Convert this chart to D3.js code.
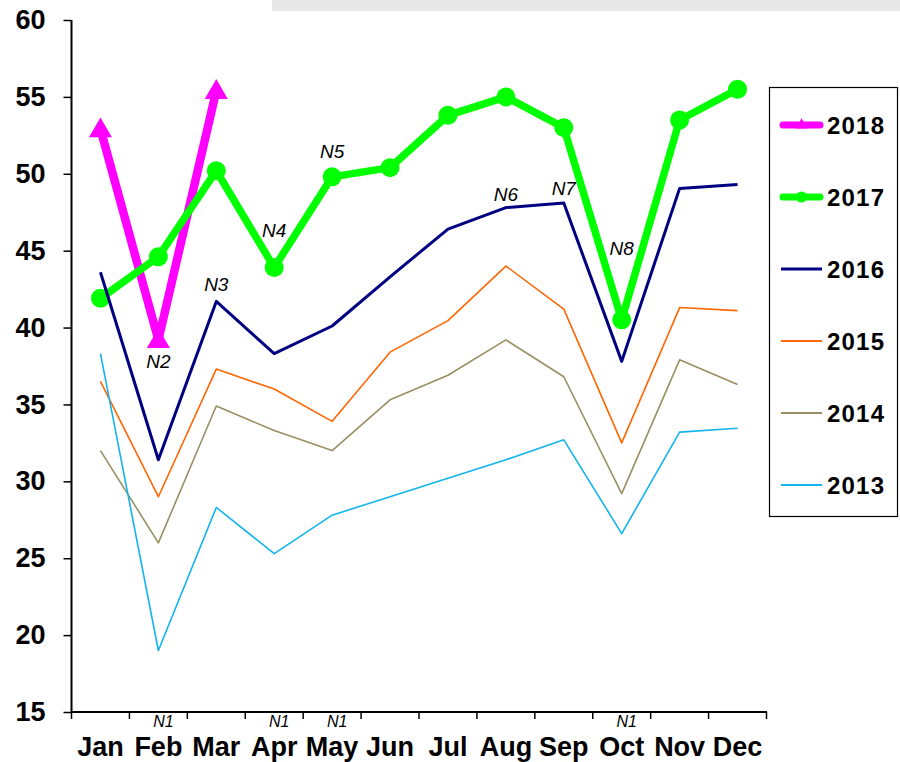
<!DOCTYPE html>
<html><head><meta charset="utf-8">
<script src="https://cdn.jsdelivr.net/npm/d3@7"></script>
<style>
html,body{margin:0;padding:0;background:#fff;}
svg{display:block;font-family:Arial,"Liberation Sans",sans-serif;}
</style></head>
<body>
<svg id="chart" width="900" height="762"></svg>
<script>
// ---- data ----
const months = ["Jan","Feb","Mar","Apr","May","Jun","Jul","Aug","Sep","Oct","Nov","Dec"];
const yTicks = [15,20,25,30,35,40,45,50,55,60];
const seriesNames = ["2018","2017","2016","2015","2014","2013"];
const v2018 = [52.9, 39.2, 55.4];
const v2017 = [41.9, 44.6, 50.2, 43.9, 49.8, 50.4, 53.8, 55.0, 53.0, 40.5, 53.5, 55.5];
const v2016 = [43.6, 31.4, 41.7, 38.3, 40.1, 43.3, 46.4, 47.8, 48.1, 37.8, 49.05, 49.3];
const v2015 = [36.5, 29.0, 37.3, 36.0, 33.9, 38.4, 40.45, 44.0, 41.2, 32.5, 41.3, 41.1];
const v2014 = [32.0, 26.0, 34.9, 33.3, 32.0, 35.3, 36.9, 39.2, 36.8, 29.2, 37.9, 36.3];
const v2013 = [38.3, 19.0, 28.3, 25.3, 27.8, 29.0, 30.2, 31.4, 32.7, 26.6, 33.2, 33.45];
const noteLabels = ["N2","N3","N4","N5","N6","N7","N8"];
const noteMonths = ["Feb","Mar","Apr","May","Aug","Sep","Oct"];
const noteValues = [37.4, 42.4, 45.9, 51.0, 48.2, 48.6, 44.7];
const axisNoteLabels = ["N1","N1","N1","N1"];
const axisNoteMonths = ["Feb","Apr","May","Oct"];

// ---- styles ----
const styles = {
  "2018": {color:"#FF00FF", width:8.5, marker:"triangle"},
  "2017": {color:"#00FF00", width:7.5, marker:"circle"},
  "2016": {color:"#000080", width:3, marker:null},
  "2015": {color:"#FF6600", width:1.6, marker:null},
  "2014": {color:"#998F63", width:1.6, marker:null},
  "2013": {color:"#12B4EE", width:1.6, marker:null}
};
const values = {"2018":v2018,"2017":v2017,"2016":v2016,"2015":v2015,"2014":v2014,"2013":v2013};

const svg = d3.select("#chart");
const x = d3.scaleBand().domain(months).range([71.5, 766.5]).padding(0);
const y = d3.scaleLinear().domain([15,60]).range([712,20]);
const cx = m => x(m) + x.bandwidth()/2;

// top grey band (clipped title area)
svg.append("rect").attr("x",272).attr("y",0).attr("width",628).attr("height",11).attr("fill","#E8E8E8");

// y axis
const yAxis = svg.append("g").attr("transform","translate(71.5,0)")
  .call(d3.axisLeft(y).tickValues(yTicks).tickSize(8).tickPadding(18).tickFormat(d3.format("d")));
yAxis.select(".domain").attr("stroke","#000").attr("stroke-width",2).attr("d","M0,20V712");
yAxis.selectAll(".tick line").attr("stroke","#000").attr("stroke-width",1.5);
yAxis.selectAll(".tick text").attr("font-size",27).attr("font-weight","bold").attr("fill","#000")
  .attr("font-family","Arial,'Liberation Sans',sans-serif");

// x axis
const xAxis = svg.append("g").attr("transform","translate(0,712)")
  .call(d3.axisBottom(x).tickSize(0).tickPadding(0));
xAxis.select(".domain").attr("stroke","#000").attr("stroke-width",2).attr("d","M71.5,0H767");
xAxis.selectAll(".tick text").attr("font-size",27).attr("font-weight","bold").attr("fill","#000")
  .attr("dy",null).attr("y",44).attr("font-family","Arial,'Liberation Sans',sans-serif");
const bounds = months.map(m => x(m)).concat([x.range()[1]]);
xAxis.selectAll(".bt").data(bounds).enter().append("line")
  .attr("x1",d=>d).attr("x2",d=>d).attr("y1",0).attr("y2",7)
  .attr("stroke","#000").attr("stroke-width",1.5);

// series lines
const line = d3.line().x((d,i)=>cx(months[i])).y(d=>y(d));
seriesNames.forEach(name => {
  const st = styles[name];
  const vals = values[name];
  svg.append("path").datum(vals).attr("d",line).attr("fill","none")
    .attr("stroke",st.color).attr("stroke-width",st.width)
    .attr("stroke-linejoin","round").attr("stroke-linecap", st.width>3?"round":"butt");
  if (st.marker === "circle") {
    svg.selectAll(null).data(vals).enter().append("circle")
      .attr("cx",(d,i)=>cx(months[i])).attr("cy",d=>y(d)).attr("r",9.5).attr("fill",st.color);
  } else if (st.marker === "triangle") {
    const tri = d3.symbol().type(d3.symbolTriangle).size(230);
    svg.selectAll(null).data(vals).enter().append("path")
      .attr("d",tri).attr("transform",(d,i)=>`translate(${cx(months[i])},${y(d)+1.5})`).attr("fill",st.color);
  }
});

// annotations
noteLabels.forEach((t,i) => {
  svg.append("text").attr("x",cx(noteMonths[i])).attr("y",y(noteValues[i]))
    .attr("text-anchor","middle").attr("font-size",19).attr("font-style","italic").attr("fill","#000").text(t);
});
axisNoteLabels.forEach((t,i) => {
  svg.append("text").attr("x",cx(axisNoteMonths[i])+5).attr("y",712+15)
    .attr("text-anchor","middle").attr("font-size",16).attr("font-style","italic").attr("fill","#000").text(t);
});

// legend
const lg = svg.append("g");
lg.append("rect").attr("x",769.5).attr("y",87.5).attr("width",128).attr("height",429)
  .attr("fill","#fff").attr("stroke","#000").attr("stroke-width",1.2);
const legY = d3.scalePoint().domain(seriesNames).range([125,485]);
seriesNames.forEach(name => {
  const st = styles[name];
  const yy = legY(name);
  const thick = st.width > 3;
  lg.append("line").attr("x1",thick?783:781).attr("x2",thick?820:822).attr("y1",yy).attr("y2",yy)
    .attr("stroke",st.color).attr("stroke-width",thick?7:(st.width>2?3:2)).attr("stroke-linecap",thick?"round":"butt");
  if (st.marker === "circle") {
    lg.append("circle").attr("cx",801.5).attr("cy",yy).attr("r",5.5).attr("fill",st.color);
  } else if (st.marker === "triangle") {
    lg.append("path").attr("d",d3.symbol().type(d3.symbolTriangle).size(60))
      .attr("transform",`translate(801.5,${yy})`).attr("fill",st.color);
  }
  lg.append("text").attr("x",827).attr("y",yy).attr("dy","0.36em")
    .attr("font-size",24).attr("font-weight","bold").attr("letter-spacing",1.2).attr("fill","#000").text(name);
});
</script>
</body></html>
